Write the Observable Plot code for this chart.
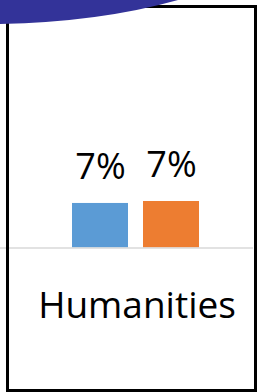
<!DOCTYPE html>
<html>
<head>
<meta charset="utf-8">
<script src="https://cdn.jsdelivr.net/npm/d3@7"></script>
<script src="https://cdn.jsdelivr.net/npm/@observablehq/plot@0.6"></script>
<style>
  html, body { margin: 0; padding: 0; background: #fff; }
  #wrap { position: relative; width: 264px; height: 392px; overflow: hidden; }
  #chart { position: absolute; left: 0; top: 0; }
  #border { position: absolute; left: 6px; top: 5px; width: 251px; height: 387px; box-sizing: border-box; border: 3px solid #000; pointer-events: none; }
  #swoosh { position: absolute; left: 0; top: 0; }
</style>
</head>
<body>
<div id="wrap">
  <div id="chart"></div>
  <div id="border"></div>
  <svg id="swoosh" width="264" height="40"><path d="M0,0 L178,0 Q100,22 0,24 Z" fill="#333399"/></svg>
</div>
<script>
const categories = ["Humanities"];
const series = ["Series 1", "Series 2"];
const values = [6.8, 7.1];
const colors = ["#5B9BD5", "#ED7D31"];

const data = series.map((s, i) => ({category: categories[0], series: s, value: values[i]}));

const chart = Plot.plot({
  width: 264,
  height: 392,
  marginLeft: 0,
  marginRight: 11,
  marginTop: 182,
  marginBottom: 144.5,
  style: {fontFamily: "'Open Sans', sans-serif", background: "transparent", color: "#000"},
  fx: {domain: categories, padding: 0},
  x: {domain: series, paddingInner: 0.211, paddingOuter: 0.887, align: 0.571, axis: null},
  y: {domain: [0, 10], axis: null},
  color: {domain: series, range: colors},
  marks: [
    Plot.barY(data, {fx: "category", x: "series", y: "value", fill: "series"}),
    Plot.ruleY([0], {stroke: "#D9D9D9", strokeWidth: 1.5}),
    Plot.text(data, {fx: "category", x: "series", y: "value", text: d => Math.round(d.value) + "%", lineAnchor: "bottom", dy: -24, fontSize: 36, fill: "#000"}),
    Plot.axisFx({anchor: "bottom", tickSize: 0, tickPadding: 44, fontSize: 37, dx: 10, label: null, fill: "#000"})
  ]
});
document.getElementById("chart").appendChild(chart);
</script>
</body>
</html>
